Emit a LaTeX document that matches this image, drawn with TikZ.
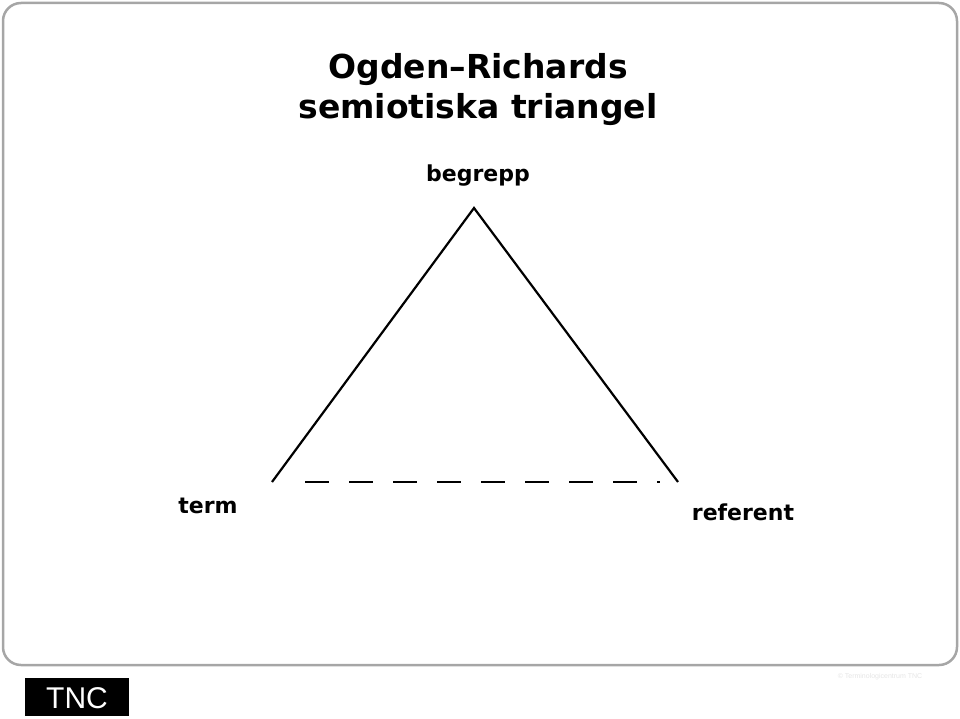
\documentclass[tikz,border=0pt]{standalone}
\usepackage{fontspec}
\setmainfont{DejaVu Sans}
\newfontfamily\logofont{Liberation Sans}
\begin{document}
\begin{tikzpicture}[x=1pt,y=-1pt,
  lbl/.style={font=\bfseries\fontsize{22}{26}\selectfont},
  edge/.style={line width=2.2pt}]
\useasboundingbox (0,0) rectangle (960,719);
\draw[rounded corners=18pt, line width=2.5pt, draw=gray!70] (3,3) rectangle (957,665);
\node[font=\bfseries\fontsize{33}{40}\selectfont, align=center] (title) at (478,90) {Ogden–Richards\\semiotiska triangel};
\coordinate (top) at (474,208);
\coordinate (left) at (272,482);
\coordinate (right) at (678,482);
\coordinate (dl) at (305,482);
\coordinate (dr) at (660,482);
\draw[edge] (left) -- (top) -- (right);
\draw[edge, dash pattern=on 24pt off 20pt] (dl) -- (dr);
\node[lbl] (begrepp) at (478,176) {begrepp};
\node[lbl] (term) at (208,506) {term};
\node[lbl] (referent) at (743,512) {referent};
\node[fill=black, minimum width=104pt, minimum height=38pt, inner sep=0pt] (logo) at (77,697) {};
\node[text=white, font=\logofont\fontsize{30}{30}\selectfont] (tnc) at (77,698) {TNC};
\node[text=gray!20, font=\logofont\fontsize{7}{8}\selectfont] (copy) at (880,677) {© Terminologicentrum TNC};
\end{tikzpicture}
\end{document}
